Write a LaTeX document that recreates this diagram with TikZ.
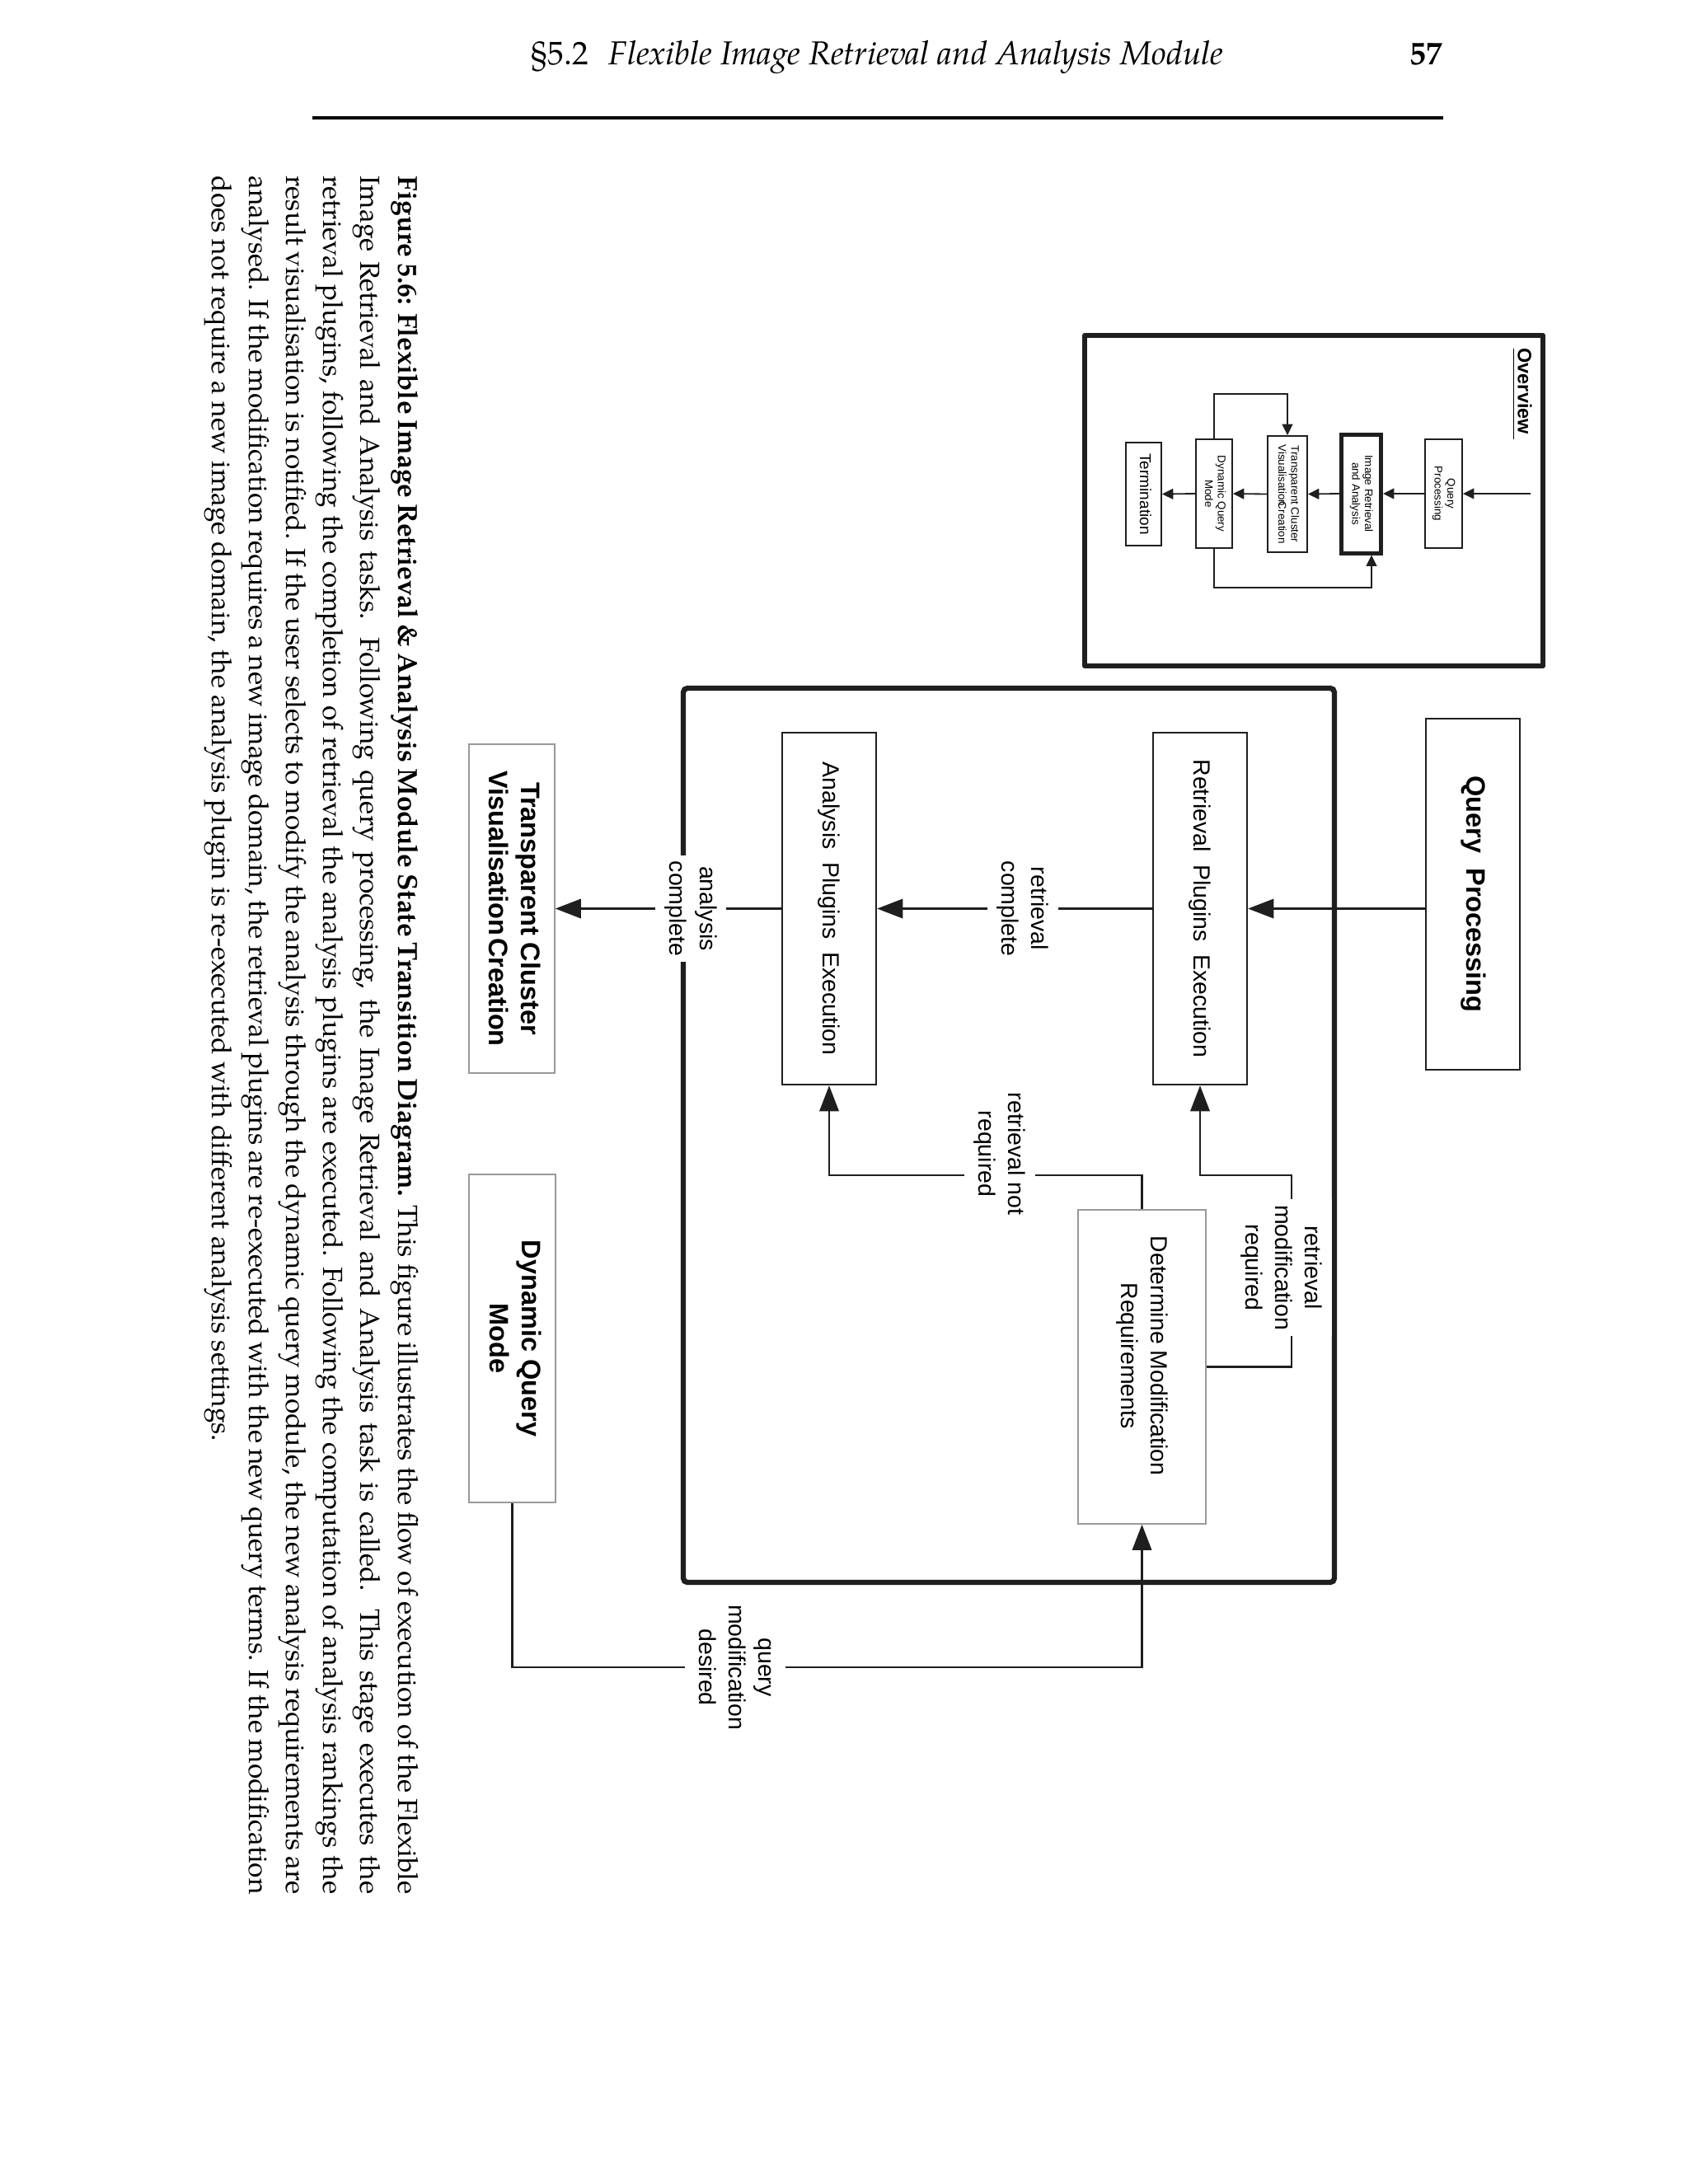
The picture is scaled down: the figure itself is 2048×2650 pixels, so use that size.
\documentclass[tikz,border=0pt]{standalone}
\usepackage{fontspec}
\usepackage{graphicx}
\setmainfont{Liberation Sans}
\newfontfamily\palfont{TeX Gyre Pagella}
\usetikzlibrary{arrows.meta}
\newcommand\vtext[1]{\rotatebox{-90}{\begin{tabular}{@{}c@{}}#1\end{tabular}}}
\newcommand\fs[2]{\fontsize{#1}{#2}\selectfont}
\tikzset{
  bx/.style 2 args={minimum width=#1*0.29883pt, minimum height=#2*0.29883pt, inner sep=0pt},
  blkbox/.style={draw=black!88, line width=0.7pt},
  grybox/.style={draw=black!40, line width=0.45pt},
  oblk/.style={draw=black!88, line width=0.55pt},
  conn/.style={draw=black!88, line width=0.65pt},
  arr/.style={conn, -{Triangle[length=9.3pt,width=7pt]}},
  lbl/.style={fill=white, inner sep=2pt, font=\fs{8.5}{10.8}},
  oconn/.style={draw=black!88, line width=0.55pt},
  oarr/.style={oconn, -{Triangle[length=4pt,width=3.8pt]}},
}
\begin{document}
\begin{tikzpicture}[x=0.29883pt,y=-0.29883pt]
\useasboundingbox (0,0) rectangle (2048,2650);
\fill[white] (0,0) rectangle (2048,2650);

% ---------- header ----------
\node[anchor=base west, inner sep=0pt, font=\palfont\fs{11.8}{14}] (sec) at (644,78) {\S5.2};
\node[anchor=base west, inner sep=0pt, font=\palfont\itshape\fs{12}{14}] (title) at (738,78) {Flexible Image Retrieval and Analysis Module};
\node[anchor=base east, inner sep=0pt, font=\palfont\bfseries\fs{11.8}{14}] (pagenum) at (1751,78) {57};
\draw[line width=1.35pt] (379,143) -- (1751,143);

% ---------- overview ----------
\draw[draw=black!88, line width=1.8pt, line join=round] (1316,407) rectangle (1872,808);
\node[inner sep=0pt, font=\bfseries\fs{7}{8}] (ovt) at (1847,478) {\vtext{\underline{Overview\ }}};
\node[bx={45}{132}, oblk, font=\fs{4}{4.6}] (oqp) at (1751.5,599) {\vtext{Query\\Processing}};
\node[bx={48}{144}, draw=black!88, line width=1.5pt, font=\fs{4}{4.6}] (oira) at (1651.5,599) {\vtext{Image Retrieval\\and Analysis}};
\node[bx={48}{141}, oblk, font=\fs{4}{4.6}] (otc) at (1562,599.5) {\vtext{Transparent Cluster\\Visualisation\kern-0.4em Creation}};
\node[bx={44}{132}, oblk, font=\fs{4}{4.6}] (odq) at (1473,599) {\vtext{Dynamic Query\\Mode}};
\node[bx={43}{125}, oblk, font=\fs{5.7}{6.5}] (oterm) at (1387.5,599.5) {\vtext{Termination}};
\coordinate (oin) at (1857,599);
\draw[oarr] (oin) -- (oqp.east);
\draw[oarr] (oqp.west) -- (oira.east);
\draw[oarr] (oira.west) -- (otc.east);
\draw[oarr] (otc.west) -- (odq.east);
\draw[oarr] (odq.west) -- (oterm.east);
\coordinate (oloopa) at (1562,478);
\draw[oarr] (odq.north) |- (oloopa) -- (otc.north);
\coordinate (oloopb) at (1664,713);
\draw[oarr] (odq.south) |- (oloopb) -- (oloopb |- oira.south);

% ---------- main diagram ----------
\node[bx={790}{1085}, draw=black!88, line width=1.9pt, rounded corners=1.5pt] (frame) at (1224,1377.5) {};
\node[bx={114}{426}, blkbox, font=\bfseries\fs{9.7}{11.6}] (qp) at (1787,1085) {\vtext{Query~~Processing}};
\node[bx={114}{427}, blkbox, font=\fs{8.5}{10.8}] (rpe) at (1456,1102.5) {\vtext{Retrieval~~Plugins~~Execution}};
\node[bx={114}{427}, blkbox, font=\fs{8.5}{10.8}] (ape) at (1006,1102.5) {\vtext{Analysis~~Plugins~~Execution}};
\node[bx={155}{381}, grybox, font=\fs{8.5}{10.8}] (dmr) at (1385.5,1658.5) {\vbox{\hbox{\vtext{Determine Modification\\Requirements}}\kern8pt}};
\node[bx={104}{399}, grybox, font=\bfseries\fs{9.7}{11.6}] (tcvc) at (621,1102.5) {\vtext{Transparent Cluster\\Visualisation\hspace{0.1em}Creation}};
\node[bx={105}{398}, grybox, font=\bfseries\fs{9.7}{11.6}] (dqm) at (621.5,1624) {\vtext{Dynamic Query\\Mode}};

\draw[arr] (qp.west |- rpe.east) -- (rpe.east);
\draw[arr] (rpe.west) -- node[lbl, pos=0.47] (lrc) {\vtext{retrieval\\complete}} (ape.east);
\draw[arr] (ape.west) -- node[lbl, pos=0.40] (lac) {\vtext{analysis\\complete}} (tcvc.east);
\coordinate (cr) at (1567,1426);
\draw[arr] (dmr.east) -| (cr) -| (rpe.south);
\node[lbl] (lrm) at (1555,1538) {\vtext{retrieval\\modification\\required}};
\draw[arr] (dmr.north) |- (ape.south |- cr) -- (ape.south);
\node[lbl] (lrn) at (1213,1400) {\vtext{retrieval not\\required}};
\coordinate (cq) at (1385.5,2023);
\draw[arr] (dqm.south) |- (cq) -- (dmr.south);
\node[lbl] (lqm) at (892,2023) {\vtext{query\\modification\\desired}};

% ---------- caption ----------
\node[rotate=-90, anchor=base west, inner sep=0pt, font=\palfont\fs{10}{13.5}] (cap) at (483,213) {\vtop{%
\hbox to 623pt{\textbf{Figure 5.6: Flexible Image Retrieval \& Analysis Module State Transition Diagram.} This figure illustrates the flow of execution of the Flexible}
\hbox to 623pt{Image Retrieval and Analysis tasks.  Following query processing, the Image Retrieval and Analysis task is called.  This stage executes the}
\hbox to 623pt{retrieval plugins, following the completion of retrieval the analysis plugins are executed. Following the computation of analysis rankings the}
\hbox to 623pt{result visualisation is notified. If the user selects to modify the analysis through the dynamic query module, the new analysis requirements are}
\hbox to 623pt{analysed. If the modification requires a new image domain, the retrieval plugins are re-executed with the new query terms. If the modification}
\hbox{does not require a new image domain, the analysis plugin is re-executed with different analysis settings.}}};
\end{tikzpicture}
\end{document}
